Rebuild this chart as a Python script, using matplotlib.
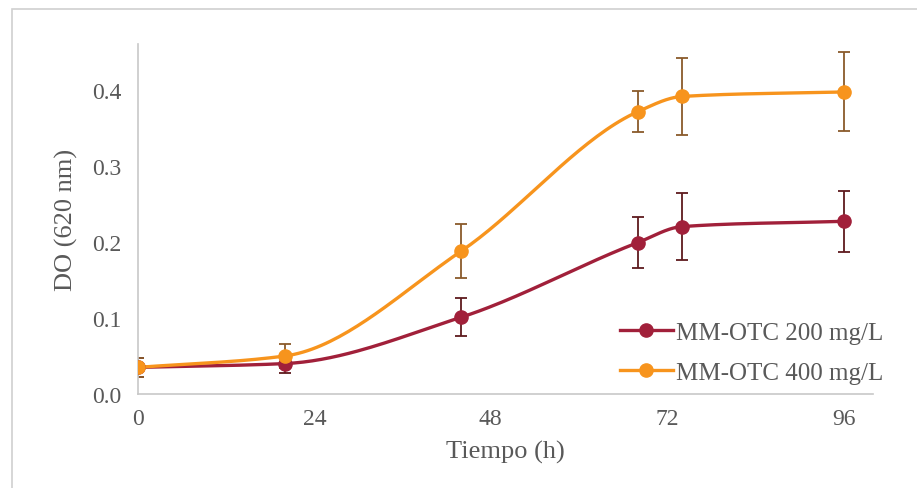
import matplotlib.pyplot as plt
import numpy as np
from matplotlib.patches import Rectangle

plt.rcParams['font.family'] = ['Liberation Serif', 'DejaVu Serif']

tiempo = [0, 20, 44, 68, 74, 96]
do_200 = [0.035, 0.040, 0.101, 0.199, 0.220, 0.227]
err_200 = [0.012, 0.012, 0.025, 0.033, 0.044, 0.040]
do_400 = [0.035, 0.050, 0.188, 0.371, 0.391, 0.397]
err_400 = [0.012, 0.016, 0.035, 0.027, 0.050, 0.052]
etiquetas = ["MM-OTC 200 mg/L", "MM-OTC 400 mg/L"]

gris = "#595959"


def suavizar(x, y, n=40):
    # interpolacion cubica monotona (Fritsch-Carlson) para la linea suave
    x = np.asarray(x, float)
    y = np.asarray(y, float)
    h = np.diff(x)
    d = np.diff(y) / h
    m = np.zeros_like(y)
    m[0], m[-1] = d[0], d[-1]
    for i in range(1, len(x) - 1):
        if d[i - 1] * d[i] > 0:
            w1 = 2 * h[i] + h[i - 1]
            w2 = h[i] + 2 * h[i - 1]
            m[i] = (w1 + w2) / (w1 / d[i - 1] + w2 / d[i])
    xs, ys = [], []
    t = np.linspace(0, 1, n)
    for i in range(len(x) - 1):
        h00 = 2 * t ** 3 - 3 * t ** 2 + 1
        h10 = t ** 3 - 2 * t ** 2 + t
        h01 = -2 * t ** 3 + 3 * t ** 2
        h11 = t ** 3 - t ** 2
        xs.extend(x[i] + t * h[i])
        ys.extend(h00 * y[i] + h10 * h[i] * m[i] + h01 * y[i + 1] + h11 * h[i] * m[i + 1])
    return xs, ys


fig = plt.figure(figsize=(9.17, 4.89), dpi=100)
ax = fig.add_axes([0.1505, 0.1922, 0.8015, 0.7158])

# marco exterior
fig.patches.append(Rectangle((12 / 917, -0.1), 1.2, 1 - 10 / 489 + 0.1,
                             transform=fig.transFigure, fill=False,
                             edgecolor="#d0d0d0", linewidth=1.2))

series = [
    (do_200, err_200, "#a1203a", "#5e1a1e", etiquetas[0]),
    (do_400, err_400, "#f7941d", "#8a5a2b", etiquetas[1]),
]
for do, err, color, ecolor, lab in series:
    ax.errorbar(tiempo, do, yerr=err, fmt="none", ecolor=ecolor,
                elinewidth=1.3, capsize=4.5, capthick=1.3, zorder=2)
    sx, sy = suavizar(tiempo, do)
    ax.plot(sx, sy, color=color, linewidth=2.4, zorder=3)
    ax.plot(tiempo, do, "o", color=color, markersize=9.5, zorder=4)
    ax.plot([], [], "-o", color=color, linewidth=2.4, markersize=9.5, label=lab)

ax.set_xlim(0, 100)
ax.set_ylim(0, 0.46)
ax.set_xticks([0, 24, 48, 72, 96])
ax.set_yticks([0.0, 0.1, 0.2, 0.3, 0.4])
ax.set_yticklabels(["0.0", "0.1", "0.2", "0.3", "0.4"])
ax.tick_params(length=0, labelsize=17, colors=gris)
ax.tick_params(axis="y", pad=12)
ax.tick_params(axis="x", pad=10)

for s in ["top", "right"]:
    ax.spines[s].set_visible(False)
for s in ["left", "bottom"]:
    ax.spines[s].set_color("#c8c8c8")
    ax.spines[s].set_linewidth(1.2)

ax.set_xlabel("Tiempo (h)", fontsize=19, color=gris, labelpad=8)
ax.set_ylabel("DO (620 nm)", fontsize=19, color=gris, labelpad=10)

ax.legend(loc="lower right", bbox_to_anchor=(1.028, 0.0), frameon=False,
          fontsize=18, labelcolor=gris, handlelength=2.1, handletextpad=0.15,
          labelspacing=0.72, borderaxespad=0)

fig.savefig("out.png", dpi=100)
